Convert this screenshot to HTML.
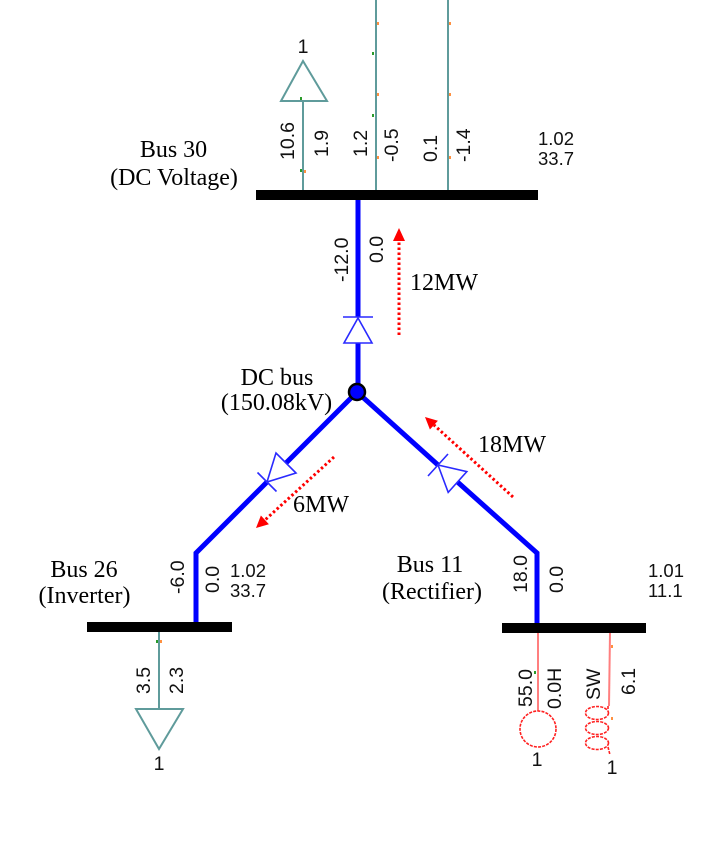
<!DOCTYPE html>
<html>
<head>
<meta charset="utf-8">
<style>
html,body{margin:0;padding:0;background:#fff;}
svg{display:block;}
.t{font-family:"Liberation Serif",serif;font-size:24px;fill:#000;}
.n{font-family:"Liberation Sans",sans-serif;font-size:19.5px;fill:#111;}
.h{font-family:"Liberation Sans",sans-serif;font-size:18.5px;fill:#111;}
</style>
</head>
<body>
<svg width="716" height="841" viewBox="0 0 716 841" xmlns="http://www.w3.org/2000/svg">
<rect width="716" height="841" fill="#fff"/>

<!-- Teal lines at top -->
<g stroke="#5f9b9b" stroke-width="2" fill="none">
  <line x1="376" y1="0" x2="376" y2="191"/>
  <line x1="448" y1="0" x2="448" y2="191"/>
  <line x1="303" y1="101" x2="303" y2="191"/>
  <polygon points="303,61 281,101 327,101"/>
  <!-- bus 26 load -->
  <line x1="159" y1="632" x2="159" y2="709"/>
  <polygon points="136,709 183,709 159,749"/>
</g>
<!-- small flow marks -->
<g>
  <rect x="372" y="52" width="2" height="3" fill="#2a9a2a"/>
  <rect x="372" y="114" width="2" height="3" fill="#2a9a2a"/>
  <rect x="377" y="22" width="2" height="3" fill="#ff9040"/>
  <rect x="377" y="93" width="2" height="3" fill="#ff9040"/>
  <rect x="377" y="156" width="2" height="3" fill="#ff9040"/>
  <rect x="449" y="22" width="2" height="3" fill="#ff9040"/>
  <rect x="449" y="93" width="2" height="3" fill="#ff9040"/>
  <rect x="449" y="156" width="2" height="3" fill="#ff9040"/>
  <rect x="300" y="97" width="2" height="3" fill="#2a9a2a"/>
  <rect x="300" y="169" width="2" height="3" fill="#2a9a2a"/>
  <rect x="304" y="170" width="2" height="3" fill="#ff9040"/>
  <rect x="156" y="640" width="2" height="3" fill="#2a9a2a"/>
  <rect x="160" y="640" width="2" height="3" fill="#ff9040"/>
  <rect x="534" y="671" width="2" height="3" fill="#2a9a2a"/>
  <rect x="611" y="645" width="2" height="3" fill="#ff9040"/>
  <rect x="611" y="717" width="2" height="3" fill="#ff9040"/>
</g>

<!-- Generator / coil -->
<g fill="none">
  <line x1="538" y1="633" x2="538" y2="711" stroke="#ff7f7f" stroke-width="2"/>
  <circle cx="538" cy="729" r="18" stroke="#ff2020" stroke-width="1.6" stroke-dasharray="3 1.2"/>
  <line x1="610" y1="633" x2="609" y2="706" stroke="#ff7f7f" stroke-width="2"/>
  <g stroke="#ff2020" stroke-width="1.6" stroke-dasharray="3 1.2">
    <ellipse cx="597" cy="713" rx="11.5" ry="6.5"/>
    <ellipse cx="597" cy="728" rx="11.5" ry="6.5"/>
    <ellipse cx="597" cy="743" rx="11.5" ry="6.5"/>
    <line x1="608" y1="706" x2="608" y2="710"/>
    <line x1="608" y1="747" x2="610" y2="755"/>
  </g>
</g>

<!-- Blue DC lines -->
<g stroke="#0000ff" stroke-width="5" fill="none" stroke-linejoin="miter">
  <line x1="358" y1="199" x2="358" y2="317"/>
  <line x1="358" y1="343" x2="358" y2="392"/>
  <line x1="357" y1="392" x2="286" y2="463"/>
  <polyline points="267,482 196,553 196,623"/>
  <line x1="357" y1="392" x2="438" y2="465"/>
  <polyline points="457.5,482 537,553 537,624"/>
</g>
<!-- Diodes -->
<g stroke="#2a2aff" stroke-width="1.6" fill="none">
  <line x1="343" y1="317" x2="373" y2="317"/>
  <polygon points="358,318 344,343 372,343"/>
  <line x1="257.5" y1="472.5" x2="276.5" y2="491.5"/>
  <polygon points="267,482 276,453 296,473"/>
  <line x1="428" y1="476" x2="448" y2="454"/>
  <polygon points="438,465 466.8,471.6 448.2,492.4"/>
</g>
<!-- DC bus node -->
<circle cx="357" cy="392" r="8" fill="#0000ff" stroke="#000" stroke-width="2.5"/>

<!-- Bus bars -->
<rect x="256" y="190" width="282" height="10" fill="#000"/>
<rect x="87" y="622" width="145" height="10" fill="#000"/>
<rect x="502" y="623" width="144" height="10" fill="#000"/>

<!-- Red dotted arrows -->
<g stroke="#ff0000" stroke-width="3" stroke-dasharray="2.5 2.5" fill="none">
  <line x1="399" y1="335" x2="399" y2="239"/>
  <line x1="334" y1="457" x2="265" y2="520"/>
  <line x1="513" y1="497" x2="434" y2="425"/>
</g>
<g fill="#ff0000">
  <polygon points="399,228 393,241 405,241"/>
  <polygon points="256,528 268.9,524.3 260.9,515.5"/>
  <polygon points="425,417 437.9,420.7 429.9,429.5"/>
</g>

<!-- Times labels -->
<text class="t" x="173.5" y="157" text-anchor="middle">Bus 30</text>
<text class="t" x="174" y="185" text-anchor="middle">(DC Voltage)</text>
<text class="t" x="410" y="290">12MW</text>
<text class="t" x="277" y="385" text-anchor="middle">DC bus</text>
<text class="t" x="276.5" y="410" text-anchor="middle">(150.08kV)</text>
<text class="t" x="293" y="512">6MW</text>
<text class="t" x="478" y="452">18MW</text>
<text class="t" x="84" y="577" text-anchor="middle">Bus 26</text>
<text class="t" x="84.5" y="603" text-anchor="middle">(Inverter)</text>
<text class="t" x="430" y="572" text-anchor="middle">Bus 11</text>
<text class="t" x="432" y="599" text-anchor="middle">(Rectifier)</text>

<!-- Horizontal numbers -->
<text class="h" x="538" y="145">1.02</text>
<text class="h" x="538" y="165">33.7</text>
<text class="h" x="230" y="577">1.02</text>
<text class="h" x="230" y="597">33.7</text>
<text class="h" x="648" y="577">1.01</text>
<text class="h" x="648" y="597">11.1</text>
<text class="n" x="303" y="53" text-anchor="middle">1</text>
<text class="n" x="159" y="770" text-anchor="middle">1</text>
<text class="n" x="537" y="766" text-anchor="middle">1</text>
<text class="n" x="612" y="774" text-anchor="middle">1</text>

<!-- Rotated numbers -->
<text class="n" transform="translate(294,160) rotate(-90)">10.6</text>
<text class="n" transform="translate(328,157) rotate(-90)">1.9</text>
<text class="n" transform="translate(367,157) rotate(-90)">1.2</text>
<text class="n" transform="translate(398,162) rotate(-90)">-0.5</text>
<text class="n" transform="translate(437,162) rotate(-90)">0.1</text>
<text class="n" transform="translate(470,162) rotate(-90)">-1.4</text>
<text class="n" transform="translate(348,282) rotate(-90)">-12.0</text>
<text class="n" transform="translate(383,263) rotate(-90)">0.0</text>
<text class="n" transform="translate(184,594) rotate(-90)">-6.0</text>
<text class="n" transform="translate(219,593) rotate(-90)">0.0</text>
<text class="n" transform="translate(527,593) rotate(-90)">18.0</text>
<text class="n" transform="translate(563,593) rotate(-90)">0.0</text>
<text class="n" transform="translate(150,694) rotate(-90)">3.5</text>
<text class="n" transform="translate(183,694) rotate(-90)">2.3</text>
<text class="n" transform="translate(532,707) rotate(-90)">55.0</text>
<text class="n" transform="translate(561,709) rotate(-90)">0.0H</text>
<text class="n" transform="translate(600,700) rotate(-90)">SW</text>
<text class="n" transform="translate(635,695) rotate(-90)">6.1</text>
</svg>
</body>
</html>
